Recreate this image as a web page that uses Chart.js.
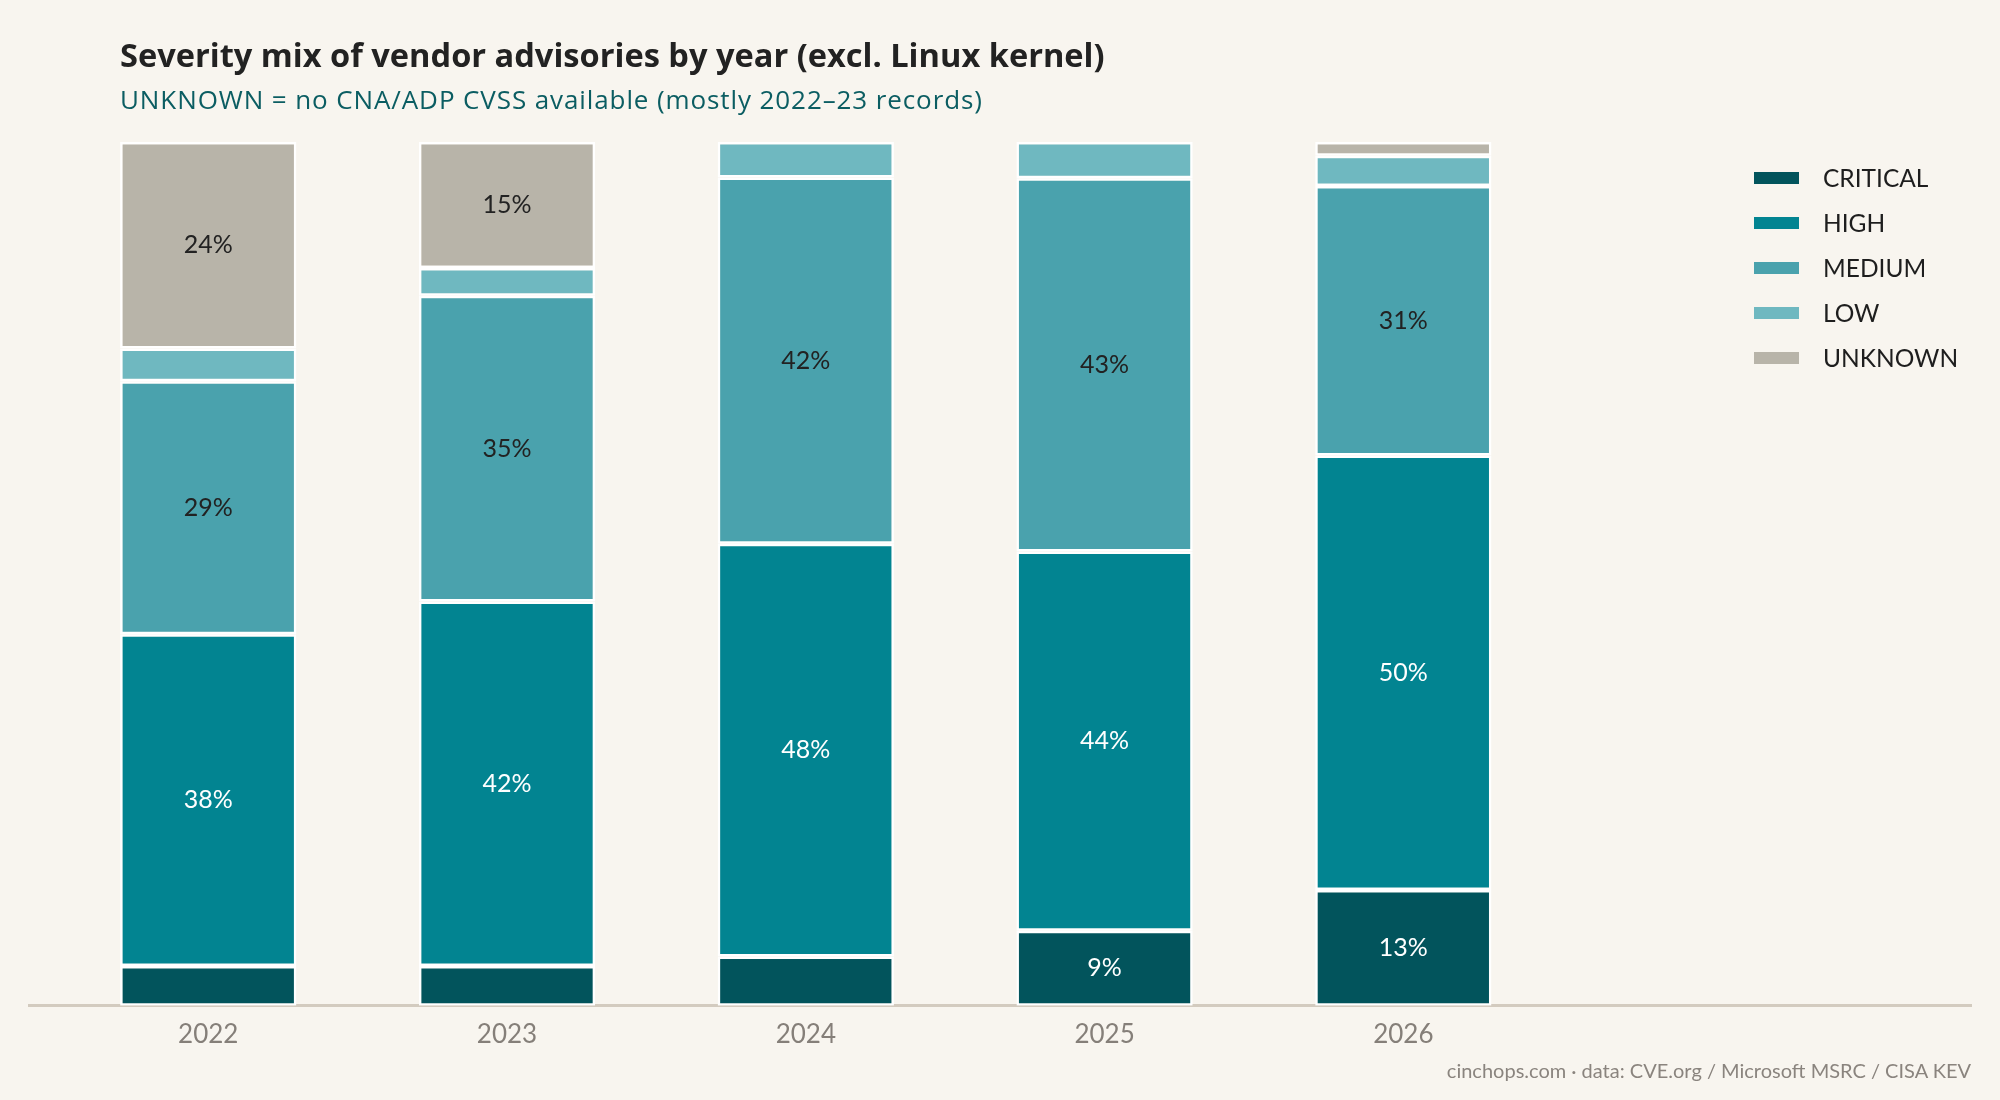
<!DOCTYPE html>
<html><head><meta charset="utf-8">
<script src="https://cdn.jsdelivr.net/npm/chart.js@4.4.1/dist/chart.umd.min.js"></script>
<style>
html,body{margin:0;padding:0;background:#f8f5ef;}
#wrap{position:relative;width:2000px;height:1100px;overflow:hidden;background:#f8f5ef;}
#c{position:absolute;left:0;top:0;}
.t{position:absolute;white-space:nowrap;}
#title{left:120px;top:38px;font-family:"Open Sans",Lato,sans-serif;font-size:32.6px;line-height:33px;font-weight:700;color:#222222;}
#sub{left:120px;top:86px;font-family:"Open Sans",Lato,sans-serif;font-size:26px;line-height:26px;letter-spacing:0.9px;color:#0b5d62;}
#foot{right:29px;top:1060px;font-family:Lato,sans-serif;font-size:20px;line-height:20px;color:#8a847e;}
</style></head>
<body><div id="wrap">
<canvas id="c" width="2000" height="1100"></canvas>
<div class="t" id="title">Severity mix of vendor advisories by year (excl. Linux kernel)</div>
<div class="t" id="sub">UNKNOWN = no CNA/ADP CVSS available (mostly 2022–23 records)</div>
<div class="t" id="foot">cinchops.com · data: CVE.org / Microsoft MSRC / CISA KEV</div>
</div>
<script>
const years = ['2022', '2023', '2024', '2025', '2026'];
const severities = ['CRITICAL', 'HIGH', 'MEDIUM', 'LOW', 'UNKNOWN'];
const critical = [4.6, 4.6, 5.7, 8.7, 13.4];
const high     = [38.4, 42.2, 47.8, 43.9, 50.3];
const medium   = [29.3, 35.4, 42.4, 43.2, 31.2];
const low      = [3.8, 3.2, 4.1, 4.2, 3.5];
const unknown  = [23.9, 14.6, null, null, 1.6];

const seriesValues = [critical, high, medium, low, unknown];
const fillColors = ['#02545c', '#028491', '#4aa2ad', '#6fb8c0', '#b8b4a9'];
const labelColors = ['#ffffff', '#ffffff', '#222222', '#222222', '#222222'];

const datasets = severities.map((name, si) => ({
  label: name,
  data: seriesValues[si].map((v, i) => ({x: i, y: v})),
  backgroundColor: fillColors[si],
  borderColor: '#ffffff',
  borderWidth: 2.5,
  borderSkipped: false,
  categoryPercentage: 1,
  barPercentage: 0.59
}));

const segLabels = {
  id: 'segLabels',
  afterDatasetsDraw(chart) {
    const ctx = chart.ctx;
    chart.data.datasets.forEach((ds, di) => {
      const meta = chart.getDatasetMeta(di);
      meta.data.forEach((bar, i) => {
        const v = ds.data[i].y;
        if (v == null || v < 8) return;
        const p = bar.getProps(['x', 'y', 'base'], true);
        ctx.save();
        ctx.font = '25px Lato';
        ctx.fillStyle = labelColors[di];
        ctx.textAlign = 'center';
        ctx.textBaseline = 'middle';
        ctx.fillText(Math.round(v) + '%', p.x, (p.y + p.base) / 2);
        ctx.restore();
      });
    });
  }
};

const sideLegend = {
  id: 'sideLegend',
  afterDraw(chart) {
    const ctx = chart.ctx;
    chart.data.datasets.forEach((ds, di) => {
      const cy = 178 + di * 45;
      ctx.save();
      ctx.fillStyle = ds.backgroundColor;
      ctx.fillRect(1754, cy - 6, 45, 12);
      ctx.fillStyle = '#1e1e1e';
      ctx.font = '24.5px Lato';
      ctx.textAlign = 'left';
      ctx.textBaseline = 'middle';
      ctx.fillText(ds.label, 1823, cy + 1);
      ctx.restore();
    });
  }
};

new Chart(document.getElementById('c'), {
  type: 'bar',
  data: { datasets },
  options: {
    responsive: false,
    animation: false,
    devicePixelRatio: 1,
    layout: { padding: { left: 29, right: 29, top: 142, bottom: 37 } },
    plugins: { legend: { display: false }, tooltip: { enabled: false }, title: { display: false } },
    scales: {
      x: {
        type: 'linear', stacked: true, min: -0.6, max: 5.9, offset: false,
        grid: { display: false, drawTicks: false },
        border: { display: true, color: '#d3cbbf', width: 3 },
        afterBuildTicks: (scale) => { scale.ticks = years.map((_, i) => ({ value: i })); },
        ticks: {
          padding: 13, autoSkip: false, maxRotation: 0,
          color: '#857f79', font: { family: 'Lato', size: 26 },
          callback: (v) => years[v] !== undefined ? years[v] : ''
        }
      },
      y: { stacked: true, min: 0, max: 100, display: false }
    }
  },
  plugins: [segLabels, sideLegend]
});
</script>
</body></html>
